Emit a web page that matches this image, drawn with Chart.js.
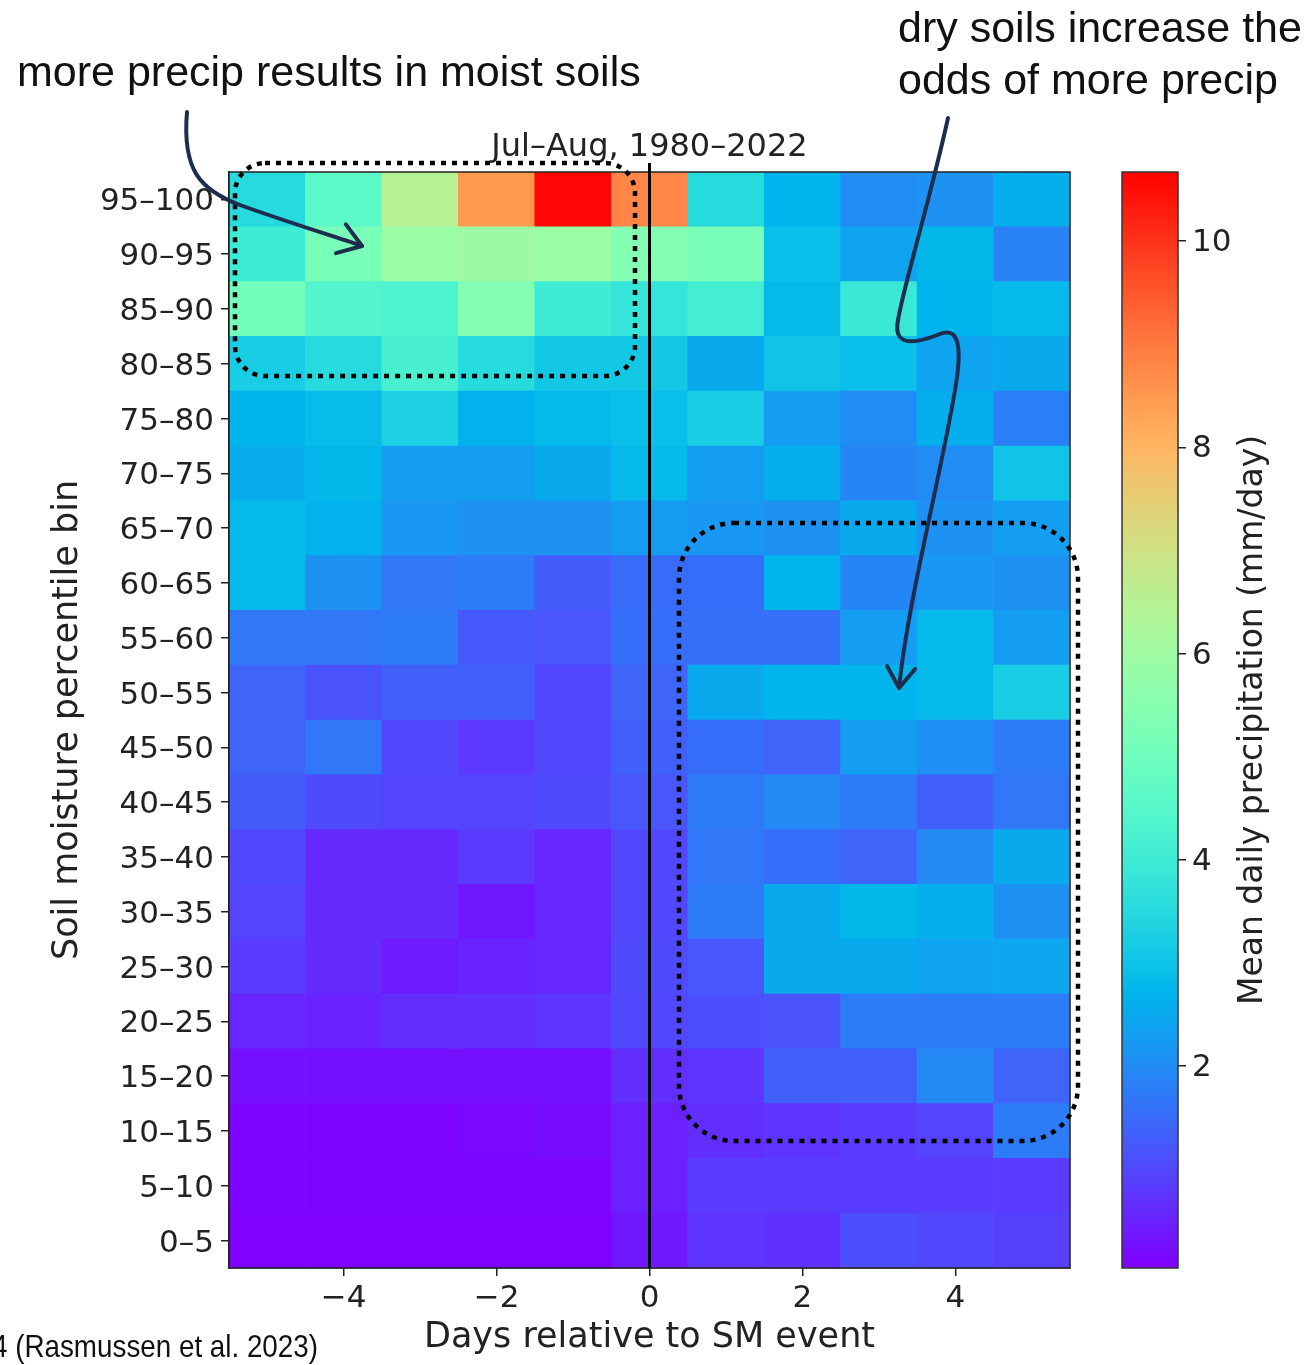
<!DOCTYPE html>
<html>
<head>
<meta charset="utf-8">
<script src="https://cdn.jsdelivr.net/npm/chart.js@4.4.1/dist/chart.umd.min.js"></script>
<style>
  html, body { margin: 0; padding: 0; background: #fff; }
  #wrap { position: relative; width: 1304px; height: 1365px; overflow: hidden; }
  #mainCanvas { position: absolute; left: 0; top: 0; }
  #cbCanvas { position: absolute; left: 1090px; top: 0; }
</style>
</head>
<body>
<div id="wrap">
  <canvas id="mainCanvas" width="1304" height="1365"></canvas>
  <canvas id="cbCanvas" width="214" height="1365"></canvas>
</div>
<script>
// ================================
// Soil moisture bins vs precip heatmap
// ================================

// Days relative to the SM event (x categories)
const days = [-5, -4, -3, -2, -1, 0, 1, 2, 3, 4, 5];

// Soil moisture percentile bins, bottom to top
const binLabels = ['0–5', '5–10', '10–15', '15–20', '20–25', '25–30', '30–35', '35–40', '40–45', '45–50',
  '50–55', '55–60', '60–65', '65–70', '70–75', '75–80', '80–85', '85–90', '90–95', '95–100'];

// Mean daily precipitation (mm/day), one row per bin (same order as binLabels)
const precip0_5    = [0.05, 0.05, 0.05, 0.05, 0.05, 0.35, 0.75, 0.70, 1.10, 1.00, 0.90];
const precip5_10   = [0.10, 0.10, 0.10, 0.10, 0.10, 0.45, 0.85, 0.85, 0.85, 0.85, 0.85];
const precip10_15  = [0.10, 0.10, 0.10, 0.15, 0.20, 0.45, 0.65, 0.75, 0.85, 0.95, 1.75];
const precip15_20  = [0.25, 0.25, 0.25, 0.25, 0.25, 0.65, 0.75, 1.35, 1.35, 1.95, 1.40];
const precip20_25  = [0.55, 0.50, 0.65, 0.65, 0.75, 1.00, 1.10, 1.15, 1.75, 1.75, 1.75];
const precip25_30  = [0.85, 0.60, 0.40, 0.50, 0.55, 1.05, 1.20, 2.50, 2.50, 2.40, 2.45];
const precip30_35  = [0.95, 0.60, 0.60, 0.35, 0.55, 1.00, 1.75, 2.50, 2.75, 2.60, 2.10];
const precip35_40  = [1.00, 0.60, 0.60, 0.80, 0.55, 1.00, 1.70, 1.55, 1.40, 1.95, 2.50];
const precip40_45  = [1.30, 1.05, 0.95, 0.95, 1.05, 1.20, 1.75, 1.95, 1.75, 1.35, 1.70];
const precip45_50  = [1.40, 1.70, 1.00, 0.80, 1.00, 1.35, 1.55, 1.40, 2.30, 2.05, 1.75];
const precip50_55  = [1.40, 1.15, 1.35, 1.35, 1.00, 1.40, 2.50, 2.70, 2.70, 2.80, 3.20];
const precip55_60  = [1.70, 1.70, 1.75, 1.25, 1.20, 1.55, 1.60, 1.60, 2.30, 2.80, 2.30];
const precip60_65  = [2.80, 2.10, 1.70, 1.75, 1.30, 1.50, 1.55, 2.70, 1.90, 2.20, 2.10];
const precip65_70  = [2.80, 2.65, 2.20, 2.10, 2.10, 2.25, 2.20, 2.10, 2.50, 2.10, 2.30];
const precip70_75  = [2.55, 2.75, 2.30, 2.30, 2.50, 2.80, 2.30, 2.60, 1.90, 2.00, 3.00];
const precip75_80  = [2.70, 2.85, 3.30, 2.65, 2.80, 2.90, 3.20, 2.30, 2.00, 2.60, 1.80];
const precip80_85  = [3.20, 3.50, 4.20, 3.50, 3.10, 3.10, 2.50, 3.00, 2.90, 2.40, 2.50];
const precip85_90  = [5.10, 4.40, 4.30, 5.40, 4.00, 3.80, 4.10, 2.80, 3.90, 2.70, 2.80];
const precip90_95  = [4.00, 5.20, 5.90, 6.00, 5.90, 5.40, 5.20, 2.90, 2.40, 2.75, 1.85];
const precip95_100 = [3.50, 4.60, 6.50, 8.50, 10.60, 8.80, 3.50, 2.70, 2.00, 2.10, 2.60];

const precipRows = [precip0_5, precip5_10, precip10_15, precip15_20, precip20_25, precip25_30,
  precip30_35, precip35_40, precip40_45, precip45_50, precip50_55, precip55_60, precip60_65,
  precip65_70, precip70_75, precip75_80, precip80_85, precip85_90, precip90_95, precip95_100];

// Tick labels
const xTicks = [-4, -2, 0, 2, 4];
const cbTicks = [2, 4, 6, 8, 10];

// Colour scale limits
const vmin = 0.04;
const vmax = 10.67;

// matplotlib "rainbow" colormap
function rainbow(t) {
  t = Math.max(0, Math.min(1, t));
  const r = Math.min(1, Math.abs(2 * t - 0.5));
  const g = Math.sin(Math.PI * t);
  const b = Math.cos(Math.PI * t / 2);
  return 'rgb(' + Math.round(r * 255) + ',' + Math.round(g * 255) + ',' + Math.round(b * 255) + ')';
}
function colorFor(v) {
  return rainbow((v - vmin) / (vmax - vmin));
}
function fmtMinus(v) {
  return v < 0 ? '\u2212' + Math.abs(v) : String(v);
}

Chart.defaults.font.family = '"DejaVu Sans", sans-serif';
Chart.defaults.color = '#222';

const axisFont = '"DejaVu Sans", sans-serif';
const annFont = '"Liberation Sans", Arial, sans-serif';
const navy = '#1d2d50';

// bin edges from label text
const binEdges = binLabels.map(l => l.split('–').map(Number));

const datasets = binLabels.map((lab, i) => ({
  label: lab,
  data: days.map(d => ({ x: d, y: binEdges[i] })),
  backgroundColor: precipRows[i].map(colorFor),
  borderWidth: 0,
  barPercentage: 1,
  categoryPercentage: 1,
  grouped: false
}));

// ---- drawing helpers for annotations ----
function drawArrow(ctx, start, curves, headLen) {
  ctx.beginPath();
  ctx.moveTo(start[0], start[1]);
  curves.forEach(c => ctx.bezierCurveTo(c[0], c[1], c[2], c[3], c[4], c[5]));
  ctx.stroke();
  const last = curves[curves.length - 1];
  const tx = last[4], ty = last[5];
  const ang = Math.atan2(ty - last[3], tx - last[2]);
  const spread = 0.6;
  ctx.beginPath();
  ctx.moveTo(tx - headLen * Math.cos(ang - spread), ty - headLen * Math.sin(ang - spread));
  ctx.lineTo(tx, ty);
  ctx.lineTo(tx - headLen * Math.cos(ang + spread), ty - headLen * Math.sin(ang + spread));
  ctx.stroke();
}

function dottedRoundRect(ctx, x, y, w, h, r) {
  ctx.save();
  ctx.setLineDash([5, 6]);
  ctx.lineWidth = 4.5;
  ctx.strokeStyle = '#000';
  ctx.beginPath();
  ctx.moveTo(x + r, y);
  ctx.lineTo(x + w - r, y);
  ctx.arcTo(x + w, y, x + w, y + r, r);
  ctx.lineTo(x + w, y + h - r);
  ctx.arcTo(x + w, y + h, x + w - r, y + h, r);
  ctx.lineTo(x + r, y + h);
  ctx.arcTo(x, y + h, x, y + h - r, r);
  ctx.lineTo(x, y + r);
  ctx.arcTo(x, y, x + r, y, r);
  ctx.stroke();
  ctx.restore();
}

const overlayPlugin = {
  id: 'overlay',
  afterDraw(chart) {
    const { ctx, chartArea: a, scales } = chart;
    ctx.save();

    // frame
    ctx.strokeStyle = '#222';
    ctx.lineWidth = 1.5;
    ctx.strokeRect(a.left, a.top, a.right - a.left, a.bottom - a.top);

    // event line at day 0
    const x0 = scales.x.getPixelForValue(0);
    ctx.strokeStyle = '#000';
    ctx.lineWidth = 3;
    ctx.beginPath();
    ctx.moveTo(x0, a.top - 9);
    ctx.lineTo(x0, a.bottom);
    ctx.stroke();

    // title
    ctx.fillStyle = '#222';
    ctx.font = '32px ' + axisFont;
    ctx.textAlign = 'center';
    ctx.textBaseline = 'middle';
    ctx.fillText('Jul–Aug, 1980–2022', (a.left + a.right) / 2, 148);

    // dotted boxes
    dottedRoundRect(ctx, 235, 163, 400, 213, 30);
    dottedRoundRect(ctx, 679, 523, 399, 618, 55);

    // arrows
    ctx.strokeStyle = navy;
    ctx.lineWidth = 4;
    ctx.lineCap = 'round';
    ctx.lineJoin = 'round';
    drawArrow(ctx, [187, 112], [
      [182, 170, 200, 190, 240, 205],
      [290, 223, 330, 235, 362, 246]
    ], 27);
    drawArrow(ctx, [948, 118], [
      [930, 200, 905, 280, 898, 320],
      [892, 350, 920, 342, 940, 334],
      [960, 326, 962, 350, 955, 390],
      [942, 470, 908, 600, 899, 688]
    ], 25);

    // annotation text
    ctx.fillStyle = '#111';
    ctx.font = '43px ' + annFont;
    ctx.textAlign = 'left';
    ctx.fillText('more precip results in moist soils', 17, 74);
    ctx.fillText('dry soils increase the', 898, 30);
    ctx.fillText('odds of more precip', 898, 82);

    // citation (clipped at the left edge)
    ctx.font = '32px "Liberation Sans Narrow", ' + annFont;
    const cite = '4 (Rasmussen et al. 2023)';
    const w = ctx.measureText(cite).width;
    ctx.translate(-8, 1348);
    ctx.scale(326 / w, 1);
    ctx.fillText(cite, 0, 0);

    ctx.restore();
  }
};

new Chart(document.getElementById('mainCanvas'), {
  type: 'bar',
  data: { datasets },
  options: {
    responsive: false,
    animation: false,
    layout: { padding: { left: 0, top: 172, right: 234, bottom: 0 } },
    plugins: { legend: { display: false }, tooltip: { enabled: false } },
    scales: {
      x: {
        type: 'linear',
        min: -5.5,
        max: 5.5,
        offset: false,
        afterBuildTicks: s => { s.ticks = xTicks.map(v => ({ value: v })); },
        afterFit: s => { s.height = 97; },
        grid: { offset: false, drawOnChartArea: false, drawTicks: true, tickLength: 8, color: '#222', lineWidth: 1.5 },
        border: { display: true, color: '#222', width: 1.5 },
        ticks: { font: { size: 31 }, padding: 4, maxRotation: 0, callback: v => fmtMinus(v) },
        title: { display: true, text: 'Days relative to SM event', font: { size: 35 }, padding: { top: 0, bottom: 6 } }
      },
      y: {
        type: 'linear',
        min: 0,
        max: 100,
        afterBuildTicks: s => { s.ticks = binEdges.map(e => ({ value: (e[0] + e[1]) / 2 })); },
        afterFit: s => { s.width = 229; },
        grid: { drawOnChartArea: false, drawTicks: true, tickLength: 8, color: '#222', lineWidth: 1.5 },
        border: { display: true, color: '#222', width: 1.5 },
        ticks: { font: { size: 31 }, padding: 7, labelOffset: 3, autoSkip: false, callback: (v, i) => binLabels[i] },
        title: { display: true, text: 'Soil moisture percentile bin', font: { size: 35 }, padding: { top: 47, bottom: 0 } }
      }
    }
  },
  plugins: [overlayPlugin]
});

// ---- colour bar ----
const cbPlugin = {
  id: 'cbFrame',
  afterDraw(chart) {
    const { ctx, chartArea: a } = chart;
    ctx.save();
    ctx.strokeStyle = '#333';
    ctx.lineWidth = 1.5;
    ctx.strokeRect(a.left, a.top, a.right - a.left, a.bottom - a.top);
    ctx.fillStyle = '#222';
    ctx.font = '33px ' + axisFont;
    ctx.textAlign = 'center';
    ctx.textBaseline = 'middle';
    ctx.translate(163, (a.top + a.bottom) / 2);
    ctx.rotate(-Math.PI / 2);
    ctx.fillText('Mean daily precipitation (mm/day)', 0, 0);
    ctx.restore();
  }
};

new Chart(document.getElementById('cbCanvas'), {
  type: 'bar',
  data: {
    labels: ['cb'],
    datasets: [{
      data: [[vmin, vmax]],
      backgroundColor: c => {
        const area = c.chart.chartArea;
        if (!area) return null;
        const g = c.chart.ctx.createLinearGradient(0, area.bottom, 0, area.top);
        for (let i = 0; i <= 40; i++) g.addColorStop(i / 40, rainbow(i / 40));
        return g;
      },
      borderWidth: 0,
      barPercentage: 1,
      categoryPercentage: 1
    }]
  },
  options: {
    responsive: false,
    animation: false,
    layout: { padding: { left: 32, top: 172, right: 0, bottom: 97 } },
    plugins: { legend: { display: false }, tooltip: { enabled: false } },
    scales: {
      x: { display: false },
      y: {
        position: 'right',
        type: 'linear',
        min: vmin,
        max: vmax,
        afterBuildTicks: s => { s.ticks = cbTicks.map(v => ({ value: v })); },
        afterFit: s => { s.width = 126; },
        grid: { drawOnChartArea: false, drawTicks: true, tickLength: 8, color: '#222', lineWidth: 1.5 },
        border: { display: false },
        ticks: { font: { size: 31 }, padding: 6, labelOffset: 2 }
      }
    }
  },
  plugins: [cbPlugin]
});
</script>
</body>
</html>
